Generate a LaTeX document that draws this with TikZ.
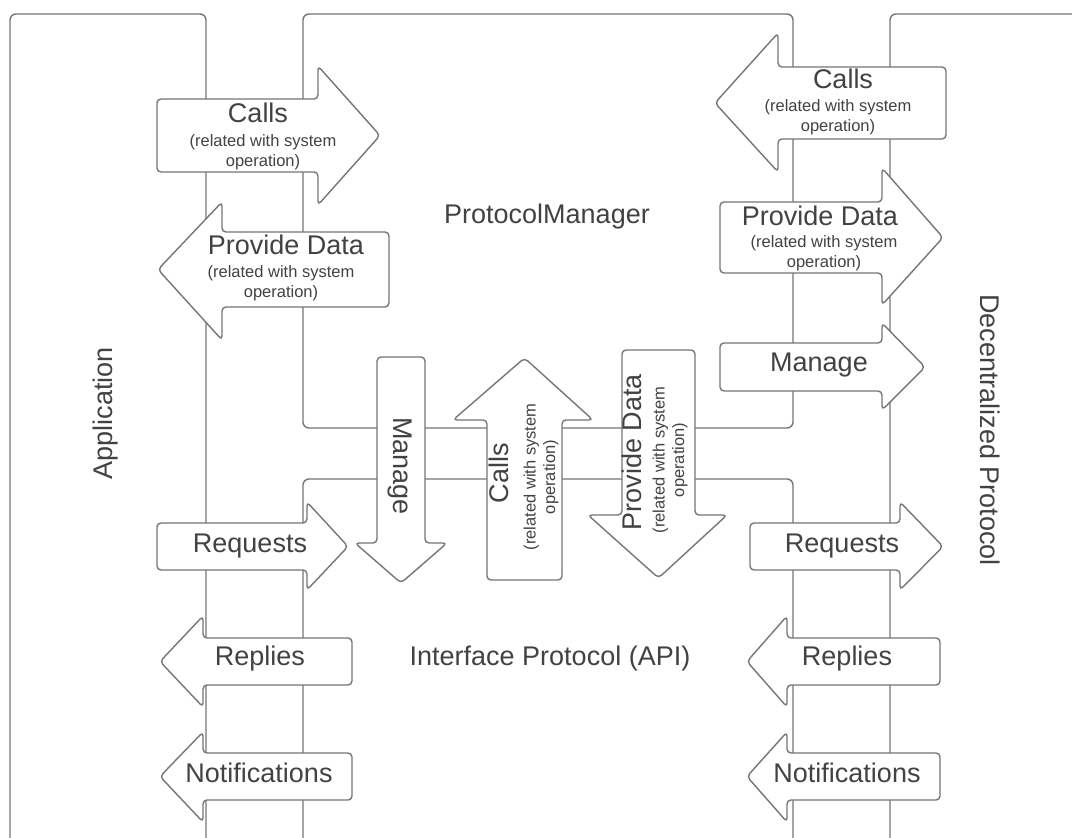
\documentclass[tikz,border=0pt]{standalone}
\usepackage{fontspec}
\setmainfont{Liberation Sans}
\definecolor{edge}{RGB}{118,118,118}
\definecolor{ink}{RGB}{66,66,66}
\tikzset{
  region/.style={draw=edge, line width=1.4pt, rounded corners=6pt},
  blockarrow/.style={draw=edge, fill=white, line width=1.4pt, rounded corners=4pt, line join=round},
  title/.style={text=ink, inner sep=0pt, font=\fontsize{27}{31}\selectfont},
  sub/.style={text=ink, inner sep=0pt, align=center, font=\fontsize{16.5}{19.5}\selectfont},
}
% horizontal block arrow: body end x, body top, body bottom, head base x, head top, head bottom, tip x
\newcommand{\harrow}[7]{%
  \draw[blockarrow] (#4,#2) -- (#1,#2) -- (#1,#3) -- (#4,#3) -- (#4,#6)
    -- (#7,{(#2+#3)/2}) -- (#4,#5) -- cycle;}
% vertical block arrow: body left x, body right x, body end y, head base y, head left x, head right x, tip y
\newcommand{\varrow}[7]{%
  \draw[blockarrow] (#1,#4) -- (#1,#3) -- (#2,#3) -- (#2,#4) -- (#6,#4)
    -- ({(#1+#2)/2},#7) -- (#5,#4) -- cycle;}
\begin{document}
\begin{tikzpicture}[x=1pt, y=-1pt]
\useasboundingbox (0,0) rectangle (1072,838);
\fill[white] (0,0) rectangle (1072,838);

% lanes
\draw[region] (10,838) -- (10,14) -- (206,14) -- (206,838);
\draw[region] (303,14) rectangle (793,428);
\draw[region] (303,838) -- (303,479) -- (793,479) -- (793,838);
\draw[region] (890,838) -- (890,14) -- (1072,14);

% arrows between Application and ProtocolManager
\harrow{157}{99}{172}{318}{66}{205}{380}
\harrow{389}{232}{307}{222}{202}{340}{158}
% arrows between ProtocolManager and Decentralized Protocol
\harrow{946}{67}{139}{778}{33}{172}{715}
\harrow{720}{202}{273}{882}{168}{305}{943}
\harrow{720}{343}{391}{882}{323}{410}{925}
% arrows between ProtocolManager and Interface Protocol
\varrow{377}{425}{357}{543}{355}{447}{583}
\varrow{487}{562}{580}{420}{453}{593}{358}
\varrow{622}{695}{350}{515}{588}{727}{578}
% arrows across the Interface Protocol boundaries
\harrow{157}{523}{570}{307}{502}{590}{348}
\harrow{750}{523}{570}{900}{502}{590}{943}
\harrow{352}{638}{685}{203}{616}{707}{160}
\harrow{352}{753}{800}{203}{732}{822}{160}
\harrow{940}{638}{685}{787}{616}{707}{747}
\harrow{940}{753}{800}{787}{732}{822}{747}

% lane labels
\node[title] (pm) at (547,217) {ProtocolManager};
\node[title] (api) at (550,659) {Interface Protocol (API)};
\node[title, rotate=90] (app) at (106,413) {Application};
\node[title, rotate=-90] (dp) at (990,430) {Decentralized Protocol};

% arrow labels
\node[title] (lcalls) at (258,113) {Calls};
\node[sub] (lcallss) at (263,152) {(related with system\\operation)};
\node[title] (lprov) at (286,245) {Provide Data};
\node[sub] (lprovs) at (281,283) {(related with system\\operation)};
\node[title] (rcalls) at (843,79) {Calls};
\node[sub] (rcallss) at (838,117) {(related with system\\operation)};
\node[title] (rprov) at (820,216) {Provide Data};
\node[sub] (rprovs) at (824,253) {(related with system\\operation)};
\node[title] (rman) at (819,365) {Manage};

\node[title, rotate=-90] (cman) at (400,466) {Manage};
\node[title, rotate=90] (ccalls) at (499,473) {Calls};
\node[sub, rotate=90] (ccallss) at (541,477) {(related with system\\operation)};
\node[title, rotate=90] (cprov) at (632,452) {Provide Data};
\node[sub, rotate=90] (cprovs) at (670,460) {(related with system\\operation)};

\node[title] (lreq) at (250,546) {Requests};
\node[title] (rreq) at (842,546) {Requests};
\node[title] (lrep) at (260,659) {Replies};
\node[title] (lnot) at (259,773) {Notifications};
\node[title] (rrep) at (847,659) {Replies};
\node[title] (rnot) at (847,773) {Notifications};
\end{tikzpicture}
\end{document}
